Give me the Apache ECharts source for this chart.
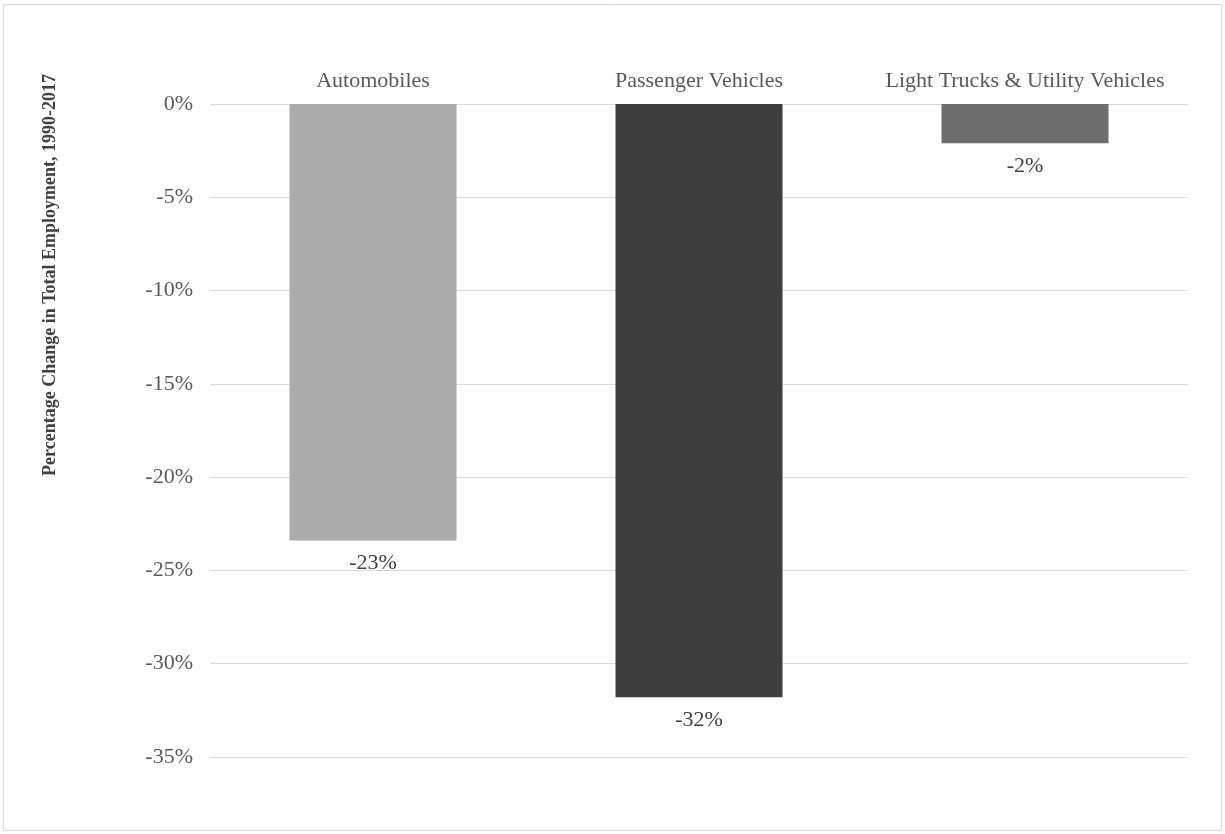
<!DOCTYPE html>
<html>
<head>
<meta charset="utf-8">
<script src="https://cdn.jsdelivr.net/npm/echarts@6/dist/echarts.min.js"></script>
<style>
  html, body { margin: 0; padding: 0; background: #fff; }
  #chart { width: 1225px; height: 834px; }
</style>
</head>
<body>
<div id="chart"></div>
<script>
const categories = ['Automobiles', 'Passenger Vehicles', 'Light Trucks & Utility Vehicles'];
const values = [-23.4, -31.8, -2.1];
const barColors = ['#acacac', '#3e3e3e', '#6e6e6e'];
const yTitle = 'Percentage Change in Total Employment, 1990-2017';

const FONT = '"Liberation Serif", "Times New Roman", serif';
const chart = echarts.init(document.getElementById('chart'));
chart.setOption({
  backgroundColor: '#ffffff',
  animation: false,
  grid: { left: 210, right: 37, top: 104, bottom: 77 },
  xAxis: {
    type: 'category',
    position: 'top',
    data: categories,
    axisLine: { show: false },
    axisTick: { show: false },
    axisLabel: { interval: 0, hideOverlap: false, fontFamily: FONT, fontSize: 22, color: '#595959', margin: 12 }
  },
  yAxis: {
    type: 'value',
    min: -35,
    max: 0,
    interval: 5,
    axisLine: { show: false },
    axisTick: { show: false },
    axisLabel: { formatter: '{value}%', fontFamily: FONT, fontSize: 22, color: '#595959', margin: 17 },
    splitLine: { lineStyle: { color: '#d9d9d9', width: 1 } }
  },
  series: [{
    type: 'bar',
    barWidth: 167,
    data: values.map((v, i) => ({ value: v, itemStyle: { color: barColors[i] } })),
    label: {
      show: true,
      position: 'bottom',
      distance: 12,
      fontFamily: FONT,
      fontSize: 22,
      color: '#404040',
      formatter: p => Math.round(p.value) + '%'
    }
  }],
  graphic: [
    {
      type: 'rect',
      shape: { x: 3.5, y: 4.5, width: 1218, height: 826 },
      style: { fill: 'none', stroke: '#d9d9d9', lineWidth: 1 }
    },
    {
      type: 'text',
      x: 50,
      y: 275,
      rotation: Math.PI / 2,
      style: {
        text: yTitle,
        fontFamily: FONT,
        fontWeight: 'bold',
        fontSize: 18,
        fill: '#404040',
        align: 'center',
        verticalAlign: 'middle'
      }
    }
  ]
});
</script>
</body>
</html>
